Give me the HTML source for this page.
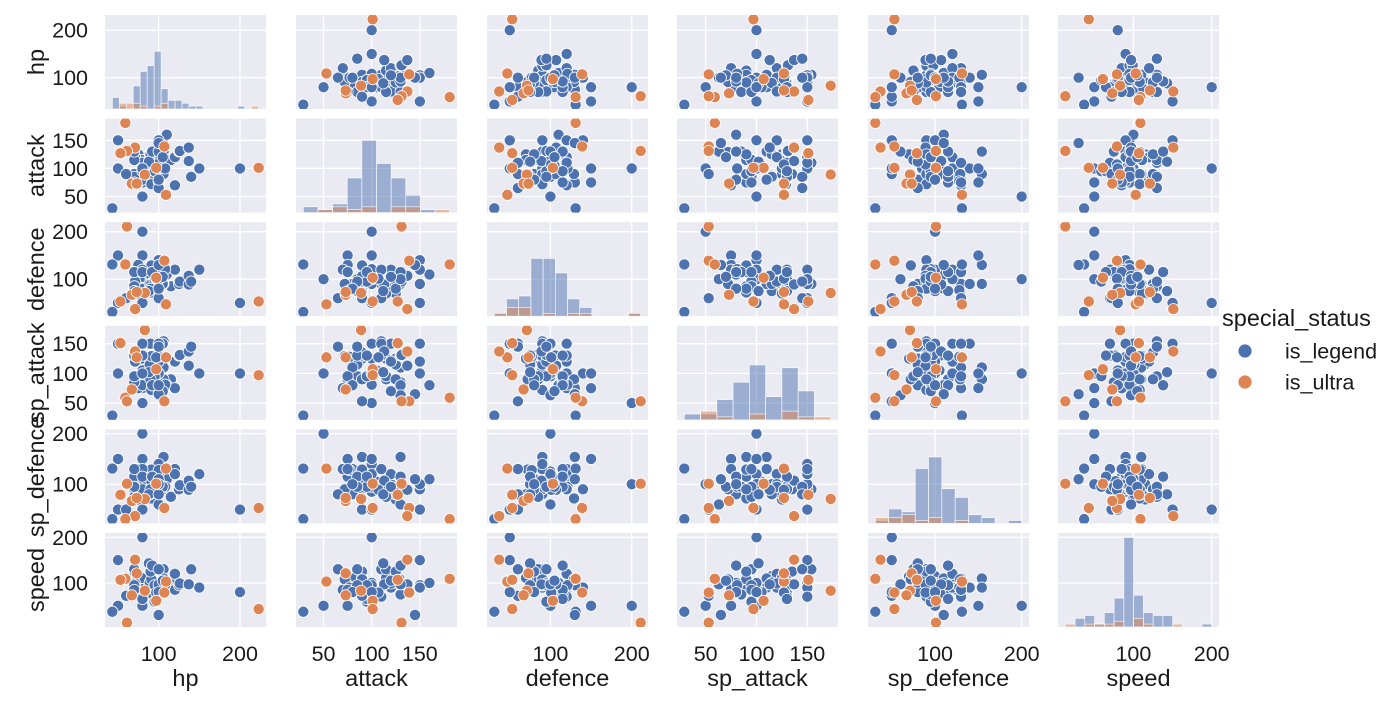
<!DOCTYPE html>
<html><head><meta charset="utf-8">
<style>
html,body{margin:0;padding:0;background:#fff;}
svg{display:block;font-family:"Liberation Sans",Arial,sans-serif;}
</style></head>
<body>
<svg id="chart" width="1400" height="701" viewBox="0 0 1400 701" xmlns="http://www.w3.org/2000/svg"></svg>
<script>
const hp=[90,90,90,106,100,90,115,100,106,106,100,80,80,80,80,80,100,100,105,100,50,75,80,75,100,90,91,110,150,120,80,100,70,100,120,100,91,91,91,79,79,100,100,89,125,91,100,71,126,126,108,50,80,80,95,95,70,70,70,70,43,43,137,137,97,80,90,88,92,92,140,60,100,105,80,200,100,100,100,
109,107,71,83,97,59,223,67,73,61,53];
const attack=[85,90,100,110,100,85,115,75,90,130,100,100,50,75,80,90,100,150,150,100,150,75,105,125,120,120,90,160,100,70,80,100,90,100,120,100,90,129,90,115,115,120,150,125,130,72,77,120,131,131,100,100,110,110,95,95,115,85,130,75,29,29,137,113,107,95,125,112,130,130,85,90,130,120,100,100,145,65,80,
53,139,137,89,101,181,101,73,73,131,127];
const defence=[100,85,90,90,100,75,85,115,130,90,100,200,100,150,90,80,90,140,90,100,50,130,105,70,120,100,106,110,120,120,80,100,90,100,120,100,129,90,72,70,70,100,120,90,90,90,77,95,95,95,121,150,60,120,95,95,85,75,115,115,31,131,107,89,101,115,80,75,115,115,95,60,100,105,50,50,130,60,80,
47,139,37,71,103,131,53,67,73,211,53];
const spAttack=[95,125,125,154,100,115,90,90,90,110,100,50,100,75,110,130,150,100,150,100,150,75,105,125,150,150,130,80,100,75,80,100,135,100,120,100,90,72,90,125,125,150,120,115,130,129,128,120,131,131,81,100,150,130,95,95,95,130,85,95,29,29,113,137,127,130,90,102,80,80,145,53,63,70,100,100,65,145,80,
127,53,137,173,107,59,97,73,127,53,151];
const spDefence=[125,90,85,90,100,100,75,115,154,154,100,100,200,150,130,110,140,90,90,100,50,130,105,70,100,120,106,110,120,130,80,100,90,100,120,100,72,90,129,80,80,120,100,80,90,90,128,95,98,98,95,150,130,90,95,95,75,115,95,130,31,131,89,107,89,115,90,80,115,115,95,50,60,95,50,50,110,80,100,
131,53,37,71,101,31,53,67,73,101,79];
const speed=[85,100,90,130,100,115,100,85,110,90,100,50,50,50,110,110,90,90,95,100,150,95,80,115,90,100,77,100,90,85,80,100,125,100,120,100,108,108,108,111,111,90,90,101,95,108,90,99,99,99,95,50,70,70,59,95,130,95,75,85,37,37,97,97,79,65,125,143,138,138,130,72,97,105,200,80,30,130,80,
103,79,151,83,61,109,43,73,121,13,107];
const status=[];
for(let i=0;i<79;i++)status.push('is_legend');
for(let i=0;i<11;i++)status.push('is_ultra');
const varNames=['hp','attack','defence','sp_attack','sp_defence','speed'];
const hpTicks=[100,200];
const attackTicks=[50,100,150];
const defenceTicks=[100,200];
const spAttackTicks=[50,100,150];
const spDefenceTicks=[100,200];
const speedTicks=[100,200];
const hueLevels=['is_legend','is_ultra'];

const cols=[hp,attack,defence,spAttack,spDefence,speed];
const ticks=[hpTicks,attackTicks,defenceTicks,spAttackTicks,spDefenceTicks,speedTicks];
const colors={is_legend:'#4c72b0',is_ultra:'#dd8452'};
const NS='http://www.w3.org/2000/svg';
const svg=document.getElementById('chart');
const PL=[105,296,487,677,868,1058],PW=161,PH=94;
const PT=[0,1,2,3,4,5].map(i=>15+i*103.6);
function mk(tag,attrs,parent){const e=document.createElementNS(NS,tag);for(const k in attrs)e.setAttribute(k,attrs[k]);(parent||svg).appendChild(e);return e;}
const doms=cols.map(a=>{const mn=Math.min(...a),mx=Math.max(...a),s=mx-mn;return [mn-0.05*s,mx+0.05*s];});
function sx(c,v){const d=doms[c];return PL[c]+(v-d[0])/(d[1]-d[0])*PW;}
function sy(r,v){const d=doms[r];return PT[r]+PH-(v-d[0])/(d[1]-d[0])*PH;}
function pct(s,p){const i=(s.length-1)*p,lo=Math.floor(i),hi=Math.ceil(i);return s[lo]+(s[hi]-s[lo])*(i-lo);}
function binEdges(a){const s=[...a].sort((x,y)=>x-y),n=s.length,mn=s[0],mx=s[n-1],rng=mx-mn;
  const st=rng/(Math.log2(n)+1);const iqr=pct(s,0.75)-pct(s,0.25);const fd=2*iqr*Math.pow(n,-1/3);
  const bw=fd>0?Math.min(st,fd):st;const nb=Math.max(1,Math.ceil(rng/bw));
  const e=[];for(let i=0;i<=nb;i++)e.push(mn+rng*i/nb);return e;}
const hists=cols.map(a=>{const e=binEdges(a),nb=e.length-1;const res={edges:e};
  hueLevels.forEach(h=>{const c=new Array(nb).fill(0);a.forEach((v,i)=>{if(status[i]!==h)return;let b=Math.floor((v-e[0])/(e[nb]-e[0])*nb);if(b>=nb)b=nb-1;c[b]++;});res[h]=c;});return res;});
let gmax=0;hists.forEach(h=>hueLevels.forEach(l=>h[l].forEach(c=>{if(c>gmax)gmax=c;})));
const ymaxCount=gmax*1.05;
const defs=mk('defs',{});
for(let r=0;r<6;r++){for(let c=0;c<6;c++){
  const g=mk('g',{});
  
  
  const cp=mk('clipPath',{id:'cp'+r+'_'+c},defs);mk('rect',{x:PL[c],y:PT[r],width:PW,height:PH},cp);
  const bg=mk('rect',{x:PL[c],y:PT[r],width:PW,height:PH,fill:'#eaeaf2'},g);
  
  
  ticks[c].forEach(t=>{const x=sx(c,t);if(x<PL[c]||x>PL[c]+PW)return;const l=mk('line',{x1:x,x2:x,y1:PT[r],y2:PT[r]+PH,stroke:'#fff','stroke-width':1.3},g);
    
    });
  ticks[r].forEach(t=>{const y=sy(r,t);if(y<PT[r]||y>PT[r]+PH)return;const l=mk('line',{x1:PL[c],x2:PL[c]+PW,y1:y,y2:y,stroke:'#fff','stroke-width':1.3},g);
    
    });
  const inner=mk('g',{'clip-path':'url(#cp'+r+'_'+c+')'},g);
  if(r===c){const h=hists[c],e=h.edges;
    hueLevels.forEach(lv=>{h[lv].forEach((cnt,b)=>{if(cnt===0)return;const x0=sx(c,e[b]),x1=sx(c,e[b+1]);const bh=cnt/ymaxCount*PH;
      const rc=mk('rect',{x:x0,y:PT[r]+PH-bh,width:x1-x0,height:bh,fill:colors[lv],'fill-opacity':0.5,stroke:'#fff','stroke-width':0.6},inner);
      
      });});
  } else {
    hueLevels.forEach(lv=>{cols[c].forEach((v,i)=>{if(status[i]!==lv)return;
      const p=mk('circle',{cx:sx(c,v),cy:sy(r,cols[r][i]),r:5.6,fill:colors[lv],stroke:'#fff','stroke-width':0.8},inner);
      
      });});
  }
}}
for(let r=0;r<6;r++){
  ticks[r].forEach(t=>{const y=sy(r,t);const tx=mk('text',{x:88,y:y+7.5,'text-anchor':'end','font-size':21.5,fill:'#1a1a1a'});tx.textContent=t;
    
    });
  const cy=PT[r]+PH/2;const yl=mk('text',{x:0,y:0,'text-anchor':'middle','font-size':23.5,fill:'#1a1a1a',transform:'translate(44,'+cy+') rotate(-90)'});yl.textContent=varNames[r];
  
  
}
for(let c=0;c<6;c++){
  ticks[c].forEach(t=>{const x=sx(c,t);const tx=mk('text',{x:x,y:661,'text-anchor':'middle','font-size':21.5,fill:'#1a1a1a'});tx.textContent=t;
    
    });
  const xl=mk('text',{x:PL[c]+PW/2,y:686,'text-anchor':'middle','font-size':23.5,fill:'#1a1a1a'});xl.textContent=varNames[c];
  
  
}
const lg=mk('g',{});


const lt=mk('text',{x:1222,y:326,'font-size':23.5,fill:'#1a1a1a'},lg);lt.textContent='special_status';


hueLevels.forEach((lv,i)=>{const y=351+i*31;
  const c=mk('circle',{cx:1245,cy:y,r:7,fill:colors[lv],stroke:'#fff','stroke-width':0.8},lg);
  
  
  const t=mk('text',{x:1285,y:y+7.5,'font-size':21.5,fill:'#1a1a1a'},lg);t.textContent=lv;
  
  });
</script>
</body></html>
